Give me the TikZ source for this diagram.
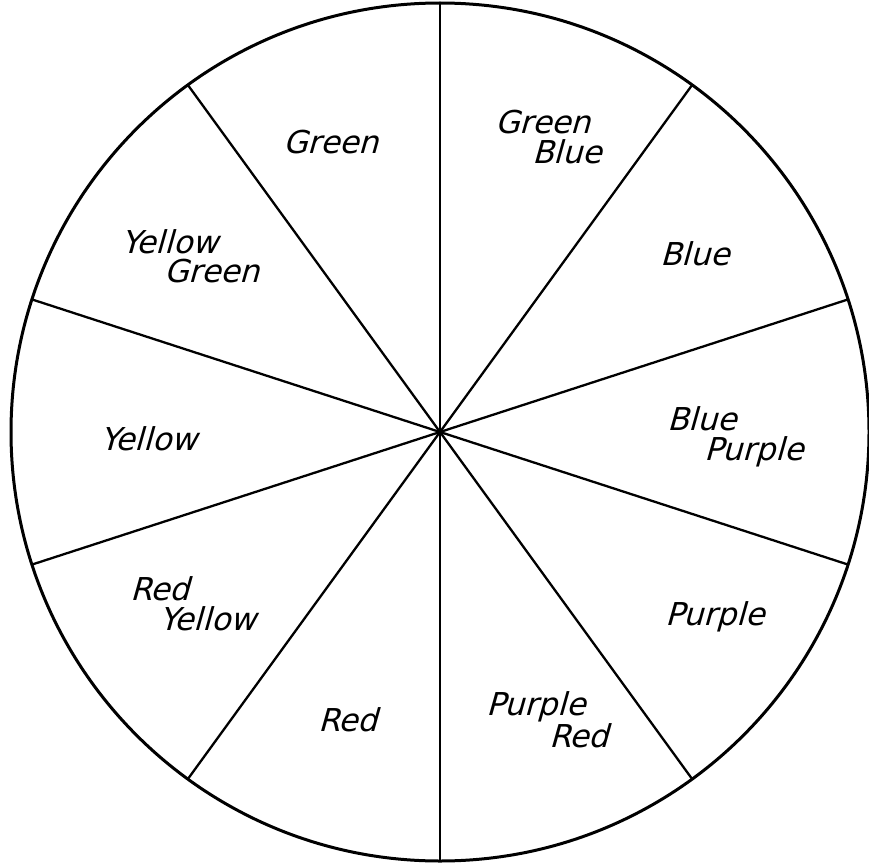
\documentclass[tikz,border=0pt]{standalone}
\usepackage{fontspec}
\newfontfamily\labfont{DejaVu Sans}[FakeSlant=0.28]
\usetikzlibrary{calc}
\begin{document}
\begin{tikzpicture}[x=1pt,y=-1pt,
  wheel/.style={line width=3pt},
  spoke/.style={line width=2.3pt},
  lab/.style={font=\labfont\fontsize{31.5}{31.5}\selectfont, anchor=base, inner sep=0pt}]
\useasboundingbox (0,0) rectangle (869,864);
\fill[white] (0,0) rectangle (869,864);
\coordinate (c) at (440,432);
\draw[wheel] (c) circle[radius=429];
\foreach \a [count=\i] in {90,54,18,-18,-54} {
  \coordinate (a\i) at ($(c)+(\a:429)$);
  \coordinate (b\i) at ($(c)+(\a+180:429)$);
  \draw[spoke] (a\i) -- (b\i);
}
\node[lab] (green) at (331,153) {Green};
\node[lab] (gb1) at (543,133) {Green};
\node[lab] (gb2) at (567,163) {Blue};
\node[lab] (blue) at (695,265) {Blue};
\node[lab] (bp1) at (702,430) {Blue};
\node[lab] (bp2) at (754,460) {Purple};
\node[lab] (purple) at (715,625) {Purple};
\node[lab] (pr1) at (536,715) {Purple};
\node[lab] (pr2) at (579,747) {Red};
\node[lab] (red) at (348,731) {Red};
\node[lab] (ry1) at (160,600) {Red};
\node[lab] (ry2) at (208,630) {Yellow};
\node[lab] (yellow) at (149,450) {Yellow};
\node[lab] (yg1) at (170,253) {Yellow};
\node[lab] (yg2) at (212,282) {Green};
\end{tikzpicture}
\end{document}
